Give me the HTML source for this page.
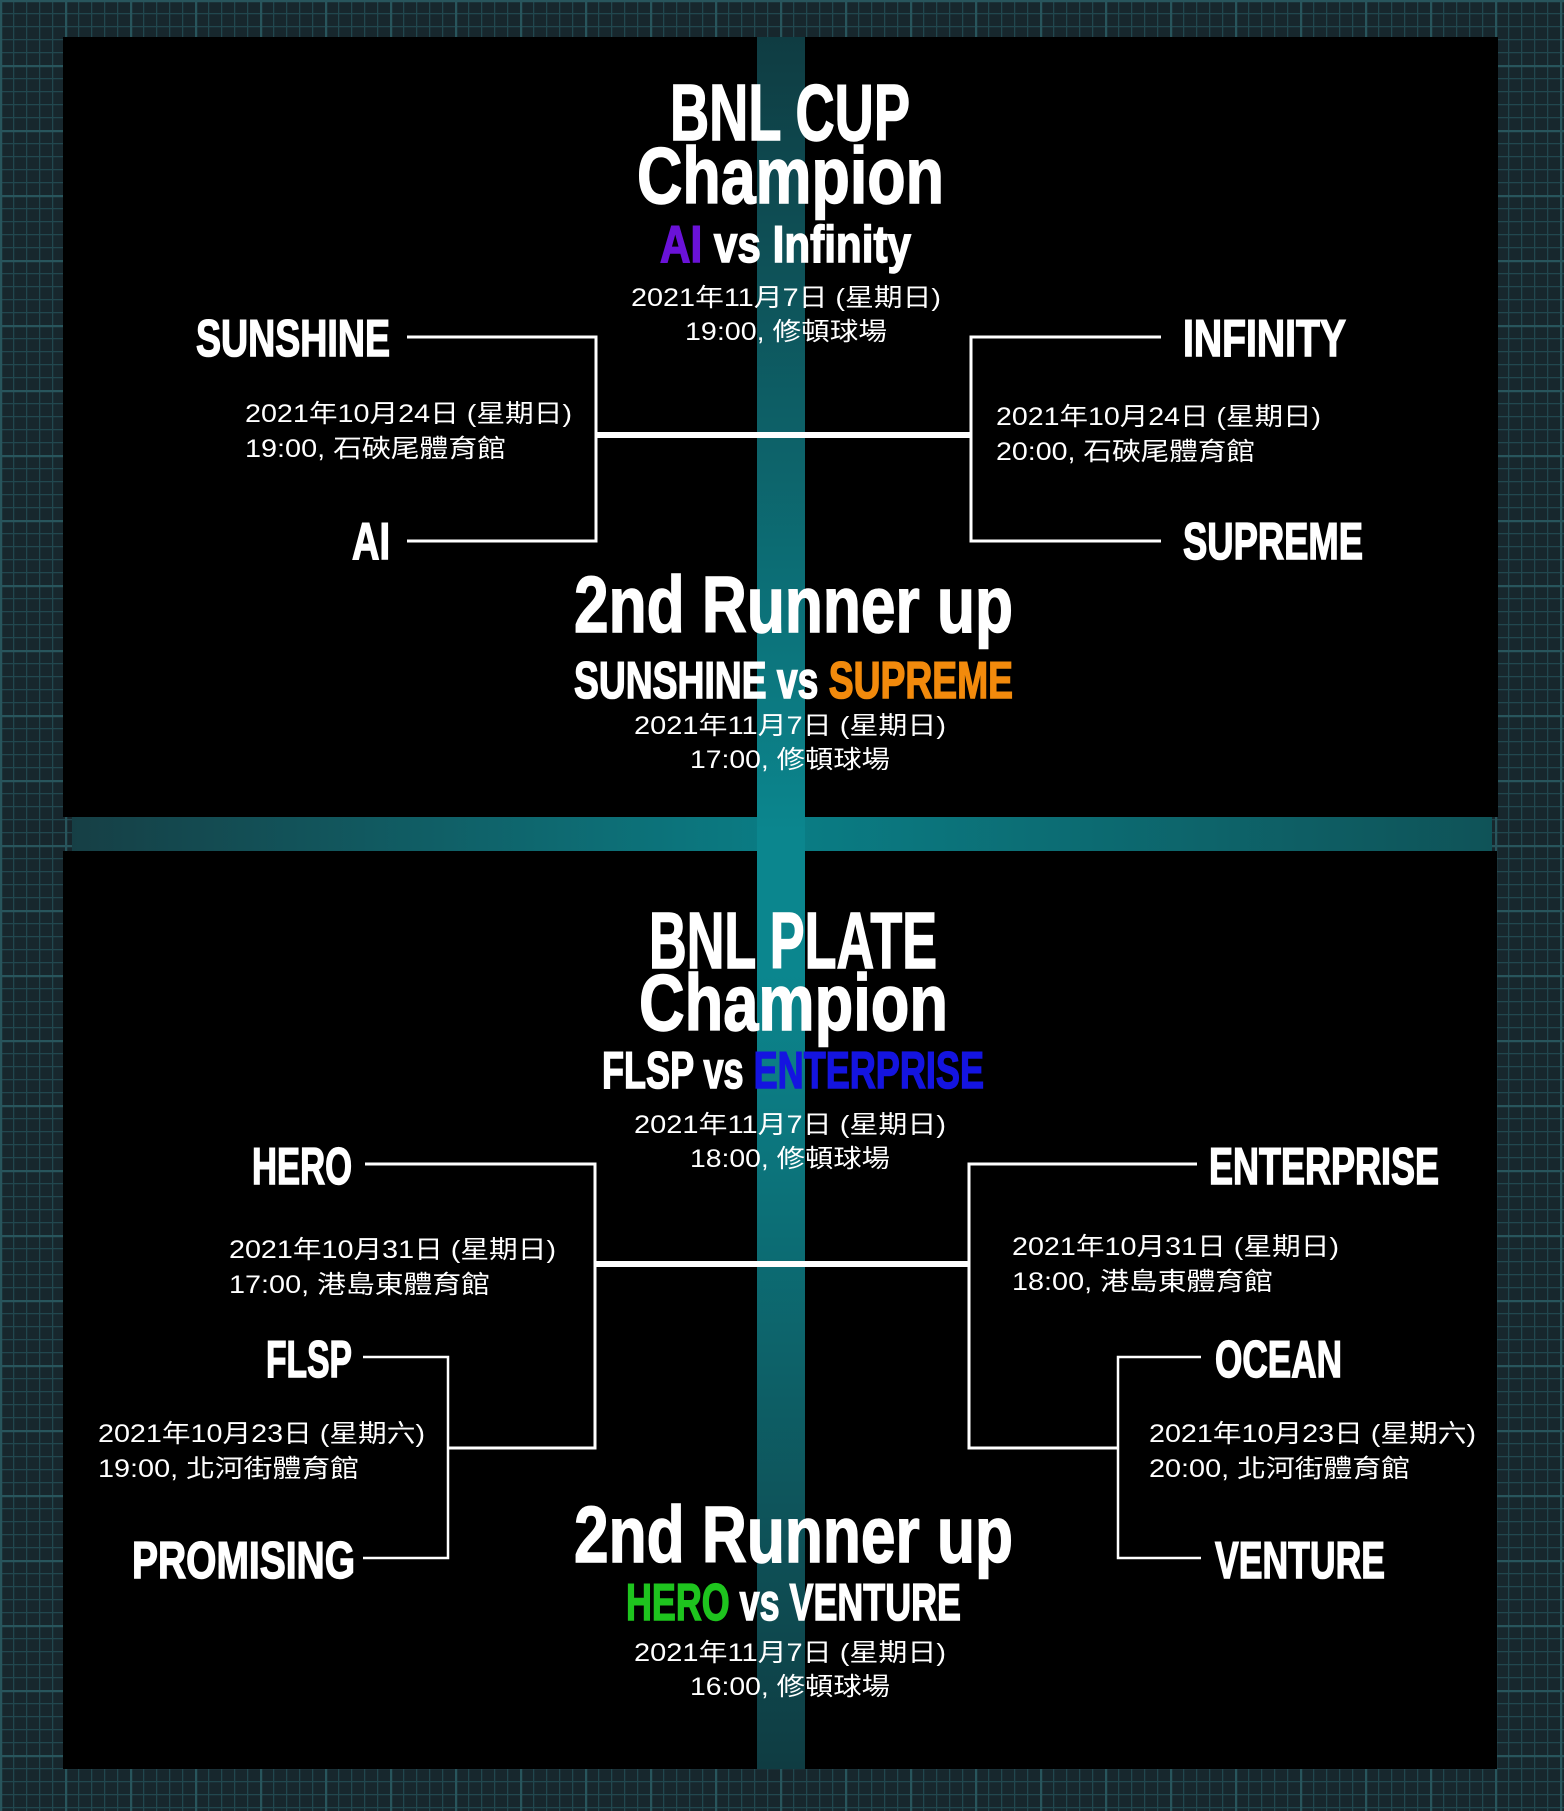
<!DOCTYPE html>
<html><head><meta charset="utf-8"><style>
html,body{margin:0;padding:0;background:#17262c;}
svg{display:block}
.t{font-family:"Liberation Sans",sans-serif;font-weight:bold;fill:#fff;stroke:currentColor;stroke-width:1.5;color:#fff}
.d{font-family:"Liberation Sans","Noto Sans CJK TC",sans-serif;fill:#fff;font-size:25px}
</style></head><body>
<svg width="1564" height="1811" viewBox="0 0 1564 1811" xmlns="http://www.w3.org/2000/svg">
<defs>
<pattern id="g" width="13" height="13" patternUnits="userSpaceOnUse">
<rect width="13" height="13" fill="#17272d"/>
<path d="M0 0.5H13M0.5 0V13" stroke="#21474e" stroke-width="1.5"/>
</pattern>
<pattern id="G" width="65" height="65" patternUnits="userSpaceOnUse">
<path d="M0 1H65M1 0V65" stroke="#28555c" stroke-width="2.5"/>
</pattern>
<linearGradient id="vb" x1="0" y1="0" x2="0" y2="1">
<stop offset="0" stop-color="#0f3c42"/><stop offset="0.46" stop-color="#0b868e"/><stop offset="0.54" stop-color="#0b868e"/><stop offset="1" stop-color="#0f3c42"/>
</linearGradient>
<linearGradient id="hb" x1="0" y1="0" x2="1" y2="0">
<stop offset="0" stop-color="#163f45"/><stop offset="0.5" stop-color="#0a7d85"/><stop offset="1" stop-color="#0f5358"/>
</linearGradient>
</defs>
<rect width="1564" height="1811" fill="url(#g)"/>
<rect width="1564" height="1811" fill="url(#G)"/>
<rect x="63" y="37" width="1435" height="780" fill="#000"/>
<rect x="63" y="851" width="1434" height="918" fill="#000"/>
<rect x="72" y="817" width="1420" height="34" fill="url(#hb)"/>
<rect x="757" y="37" width="48" height="1732" fill="url(#vb)"/>

<text class="t" x="670" y="140" font-size="80" textLength="240" lengthAdjust="spacingAndGlyphs">BNL CUP</text>
<text class="t" x="637" y="203" font-size="80" textLength="307" lengthAdjust="spacingAndGlyphs">Champion</text>
<text class="t" x="660" y="262" font-size="52" textLength="251" lengthAdjust="spacingAndGlyphs"><tspan fill="#6a12d8" style="color:#6a12d8">AI</tspan> vs Infinity</text>
<text class="d" x="631" y="306" textLength="310" lengthAdjust="spacingAndGlyphs">2021年11月7日 (星期日)</text>
<text class="d" x="685" y="340" textLength="202" lengthAdjust="spacingAndGlyphs">19:00, 修頓球場</text>

<text class="t" x="196" y="356" font-size="52" textLength="194" lengthAdjust="spacingAndGlyphs">SUNSHINE</text>
<text class="t" x="352" y="559" font-size="52" textLength="38" lengthAdjust="spacingAndGlyphs">AI</text>
<text class="t" x="1183" y="356" font-size="52" textLength="163" lengthAdjust="spacingAndGlyphs">INFINITY</text>
<text class="t" x="1183" y="559" font-size="52" textLength="180" lengthAdjust="spacingAndGlyphs">SUPREME</text>
<text class="d" x="245" y="422" textLength="327" lengthAdjust="spacingAndGlyphs">2021年10月24日 (星期日)</text>
<text class="d" x="245" y="457" textLength="261" lengthAdjust="spacingAndGlyphs">19:00, 石硤尾體育館</text>
<text class="d" x="996" y="425" textLength="325" lengthAdjust="spacingAndGlyphs">2021年10月24日 (星期日)</text>
<text class="d" x="996" y="460" textLength="259" lengthAdjust="spacingAndGlyphs">20:00, 石硤尾體育館</text>

<g stroke="#fff" fill="none">
<path d="M407 337H596V541H407" stroke-width="3"/>
<path d="M1161 337H971V541H1161" stroke-width="3"/>
<path d="M596 435H971" stroke-width="6"/>
</g>

<text class="t" x="574" y="632" font-size="80" textLength="439" lengthAdjust="spacingAndGlyphs">2nd Runner up</text>
<text class="t" x="574" y="698" font-size="52" textLength="439" lengthAdjust="spacingAndGlyphs">SUNSHINE vs <tspan fill="#f28a0c" style="color:#f28a0c">SUPREME</tspan></text>
<text class="d" x="634" y="734" textLength="312" lengthAdjust="spacingAndGlyphs">2021年11月7日 (星期日)</text>
<text class="d" x="690" y="768" textLength="200" lengthAdjust="spacingAndGlyphs">17:00, 修頓球場</text>

<text class="t" x="649" y="968" font-size="80" textLength="288" lengthAdjust="spacingAndGlyphs">BNL PLATE</text>
<text class="t" x="639" y="1030" font-size="80" textLength="309" lengthAdjust="spacingAndGlyphs">Champion</text>
<text class="t" x="602" y="1088" font-size="52" textLength="382" lengthAdjust="spacingAndGlyphs">FLSP vs <tspan fill="#1414e0" style="color:#1414e0">ENTERPRISE</tspan></text>
<text class="d" x="634" y="1133" textLength="312" lengthAdjust="spacingAndGlyphs">2021年11月7日 (星期日)</text>
<text class="d" x="690" y="1167" textLength="200" lengthAdjust="spacingAndGlyphs">18:00, 修頓球場</text>

<text class="t" x="252" y="1184" font-size="52" textLength="100" lengthAdjust="spacingAndGlyphs">HERO</text>
<text class="t" x="1209" y="1184" font-size="52" textLength="230" lengthAdjust="spacingAndGlyphs">ENTERPRISE</text>
<text class="t" x="266" y="1377" font-size="52" textLength="86" lengthAdjust="spacingAndGlyphs">FLSP</text>
<text class="t" x="1215" y="1377" font-size="52" textLength="127" lengthAdjust="spacingAndGlyphs">OCEAN</text>
<text class="t" x="132" y="1578" font-size="52" textLength="223" lengthAdjust="spacingAndGlyphs">PROMISING</text>
<text class="t" x="1215" y="1578" font-size="52" textLength="170" lengthAdjust="spacingAndGlyphs">VENTURE</text>

<text class="d" x="229" y="1258" textLength="327" lengthAdjust="spacingAndGlyphs">2021年10月31日 (星期日)</text>
<text class="d" x="229" y="1293" textLength="261" lengthAdjust="spacingAndGlyphs">17:00, 港島東體育館</text>
<text class="d" x="1012" y="1255" textLength="327" lengthAdjust="spacingAndGlyphs">2021年10月31日 (星期日)</text>
<text class="d" x="1012" y="1290" textLength="261" lengthAdjust="spacingAndGlyphs">18:00, 港島東體育館</text>
<text class="d" x="98" y="1442" textLength="327" lengthAdjust="spacingAndGlyphs">2021年10月23日 (星期六)</text>
<text class="d" x="98" y="1477" textLength="261" lengthAdjust="spacingAndGlyphs">19:00, 北河街體育館</text>
<text class="d" x="1149" y="1442" textLength="327" lengthAdjust="spacingAndGlyphs">2021年10月23日 (星期六)</text>
<text class="d" x="1149" y="1477" textLength="261" lengthAdjust="spacingAndGlyphs">20:00, 北河街體育館</text>

<g stroke="#fff" fill="none">
<path d="M365 1164H595V1448H448" stroke-width="3"/>
<path d="M363 1357H448V1558H363" stroke-width="2.5"/>
<path d="M1197 1164H969V1448H1118" stroke-width="3"/>
<path d="M1201 1357H1118V1558H1201" stroke-width="2.5"/>
<path d="M595 1264H969" stroke-width="6"/>
</g>

<text class="t" x="574" y="1562" font-size="80" textLength="439" lengthAdjust="spacingAndGlyphs">2nd Runner up</text>
<text class="t" x="626" y="1620" font-size="52" textLength="335" lengthAdjust="spacingAndGlyphs"><tspan fill="#1ec41e" style="color:#1ec41e">HERO</tspan> vs VENTURE</text>
<text class="d" x="634" y="1661" textLength="312" lengthAdjust="spacingAndGlyphs">2021年11月7日 (星期日)</text>
<text class="d" x="690" y="1695" textLength="200" lengthAdjust="spacingAndGlyphs">16:00, 修頓球場</text>
</svg>
</body></html>
